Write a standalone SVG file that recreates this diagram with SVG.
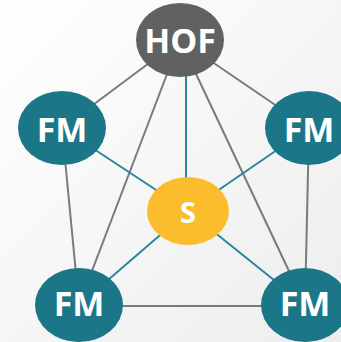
<svg xmlns="http://www.w3.org/2000/svg" width="341" height="342" viewBox="0 0 341 342">
<defs>
<linearGradient id="bg" x1="0" y1="0" x2="1" y2="1">
<stop offset="0" stop-color="#ffffff"/>
<stop offset="1" stop-color="#ededed"/>
</linearGradient>
<style>
.g{stroke:#7a7a7a;stroke-width:2;fill:none}
.t{stroke:#2b8797;stroke-width:2;fill:none}
.fm{fill:#1b7788}
.hof{fill:#616161}
.s{fill:#fbbd2e}
text{font-family:"Open Sans","Liberation Sans",sans-serif;font-weight:bold;fill:#ffffff;text-anchor:middle}
</style>
</defs>
<rect width="341" height="342" fill="url(#bg)"/>
<g id="connectors">
<line class="g" x1="180" y1="40" x2="62" y2="128"/>
<line class="g" x1="180" y1="40" x2="309" y2="128"/>
<line class="g" x1="180" y1="40" x2="79" y2="305"/>
<line class="g" x1="180" y1="40" x2="305" y2="305"/>
<line class="g" x1="62" y1="128" x2="79" y2="305"/>
<line class="g" x1="309" y1="128" x2="305" y2="305"/>
<line class="g" x1="79" y1="306" x2="305" y2="306"/>
<line class="t" x1="186" y1="40" x2="186" y2="211"/>
<line class="t" x1="188" y1="211" x2="62" y2="128"/>
<line class="t" x1="188" y1="211" x2="309" y2="128"/>
<line class="t" x1="188" y1="211" x2="79" y2="305"/>
<line class="t" x1="188" y1="211" x2="305" y2="305"/>
</g>
<g id="hof">
<ellipse class="hof" cx="180" cy="40" rx="44" ry="37"/>
<text x="180" y="53" font-size="34">HOF</text>
</g>
<g id="fm-left">
<ellipse class="fm" cx="62" cy="128" rx="44" ry="37"/>
<text x="62" y="142" font-size="34">FM</text>
</g>
<g id="fm-right">
<ellipse class="fm" cx="309" cy="128" rx="44" ry="37"/>
<text x="309" y="142" font-size="34">FM</text>
</g>
<g id="s">
<ellipse class="s" cx="188" cy="211" rx="41" ry="34"/>
<text x="188" y="223" font-size="29">S</text>
</g>
<g id="fm-bottom-left">
<ellipse class="fm" cx="79" cy="305" rx="44" ry="37"/>
<text x="79" y="316" font-size="34">FM</text>
</g>
<g id="fm-bottom-right">
<ellipse class="fm" cx="305" cy="305" rx="44" ry="37"/>
<text x="305" y="316" font-size="34">FM</text>
</g>
</svg>
